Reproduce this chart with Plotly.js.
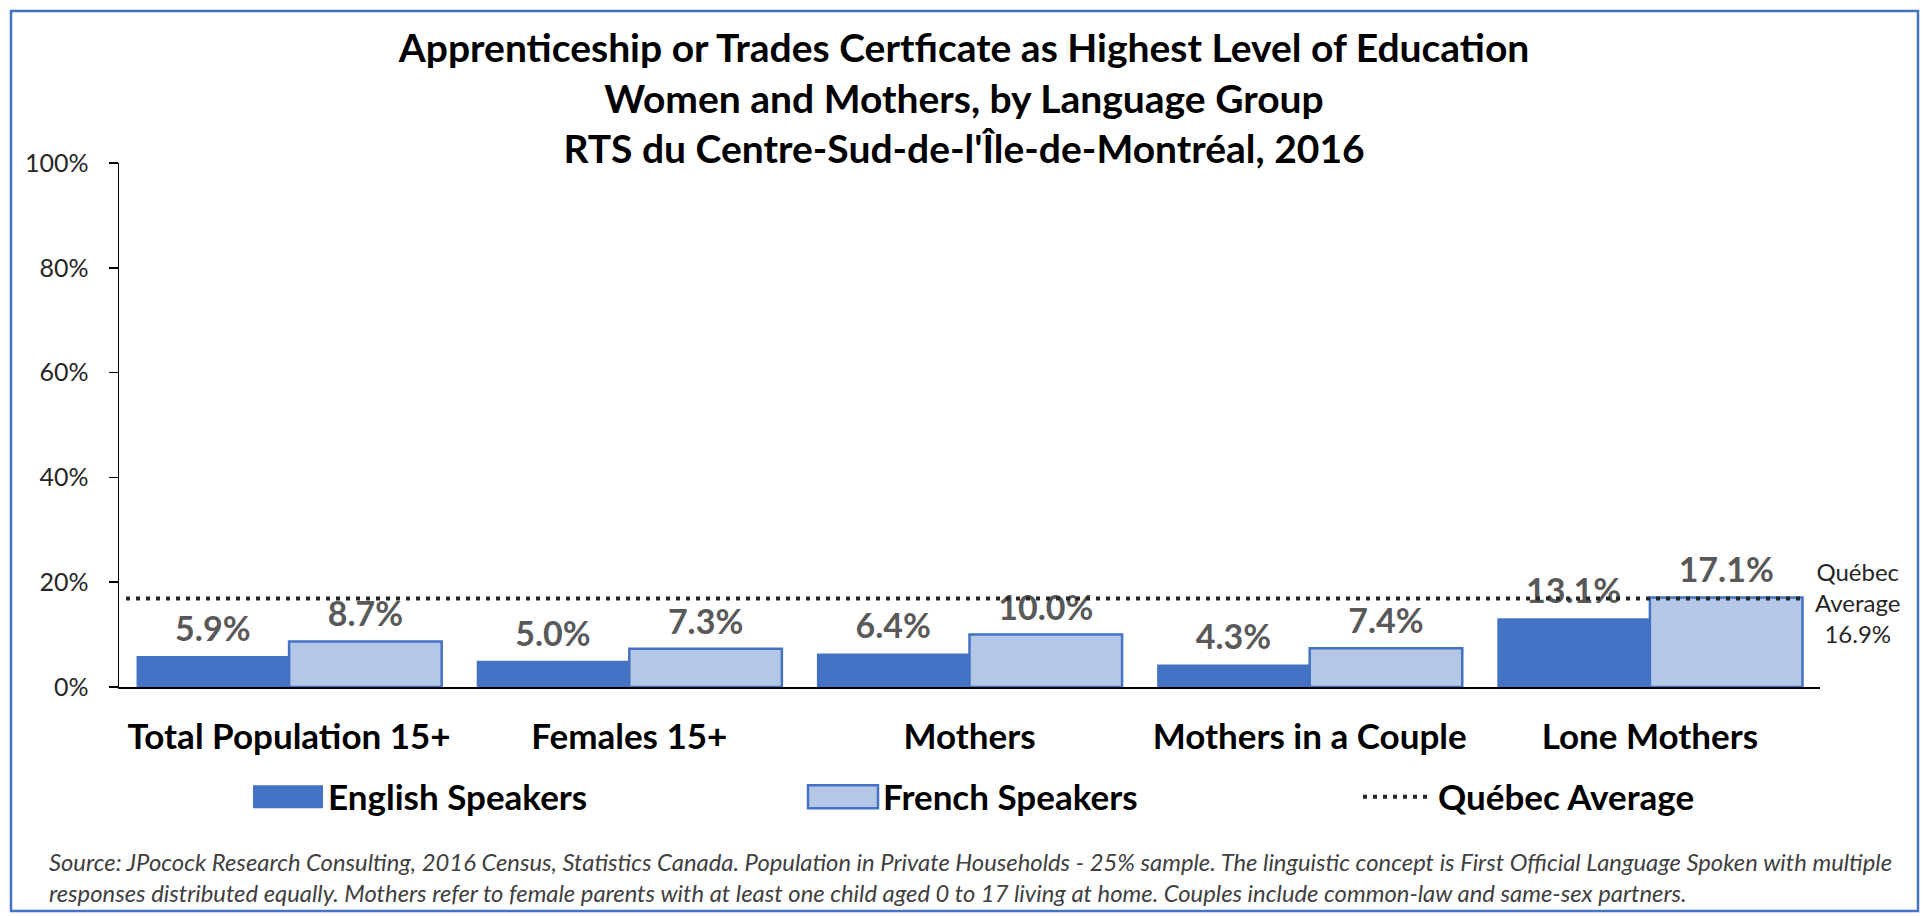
<!DOCTYPE html>
<html>
<head>
<meta charset="utf-8">
<script src="https://cdn.plot.ly/plotly-3.0.1.min.js"></script>
<style>
  html, body { margin: 0; padding: 0; background: #ffffff; }
  #chart { width: 1925px; height: 916px; }
</style>
</head>
<body>
<div id="chart"></div>
<script>
// ---- Data ----
const categories = ["Total Population 15+", "Females 15+", "Mothers", "Mothers in a Couple", "Lone Mothers"];
const englishSpeakers = [5.9, 5.0, 6.4, 4.3, 13.1];
const frenchSpeakers = [8.7, 7.3, 10.0, 7.4, 17.1];
const quebecAverage = [16.9, 16.9, 16.9, 16.9, 16.9];
const yTickValues = [0, 20, 40, 60, 80, 100];
const yTickLabels = ["0%", "20%", "40%", "60%", "80%", "100%"];
const seriesNames = ["English Speakers", "French Speakers", "Québec Average"];
const titleLines = [
  "Apprenticeship or Trades Certficate as Highest Level of Education",
  "Women and Mothers, by Language Group",
  "RTS du Centre-Sud-de-l'Île-de-Montréal, 2016"
];
const sourceLines = [
  "Source: JPocock Research Consulting, 2016 Census, Statistics Canada. Population in Private Households - 25% sample. The linguistic concept is First Official Language Spoken with multiple",
  "responses distributed equally. Mothers refer to female parents with at least one child aged 0 to 17 living at home. Couples include common-law and same-sex partners."
];

const FONT = "Lato, 'Open Sans', sans-serif";
const BLUE = "#4472C4";
const LIGHT = "#B4C7E7";

const traces = [
  {
    type: "bar", name: seriesNames[0], x: categories, y: englishSpeakers,
    marker: { color: BLUE, line: { width: 0 } },
    texttemplate: "%{y:.1f}%", textposition: "outside", cliponaxis: false,
    textfont: { family: FONT, size: 34, color: "#595959", weight: "bold" },
    hoverinfo: "skip"
  },
  {
    type: "bar", name: seriesNames[1], x: categories, y: frenchSpeakers,
    marker: { color: LIGHT, line: { color: BLUE, width: 2.5 } },
    texttemplate: "%{y:.1f}%", textposition: "outside", cliponaxis: false,
    textfont: { family: FONT, size: 34, color: "#595959", weight: "bold" },
    hoverinfo: "skip"
  },
  {
    type: "scatter", mode: "lines", name: seriesNames[2], x: categories, y: quebecAverage,
    xaxis: "x2", yaxis: "y",
    line: { color: "#262626", width: 4, dash: "4px,6px" },
    hoverinfo: "skip", cliponaxis: false
  }
];

const last = categories.length - 1;

const layout = {
  width: 1925, height: 916,
  margin: { l: 119, r: 105, t: 163, b: 229, pad: 0 },
  paper_bgcolor: "#ffffff", plot_bgcolor: "#ffffff",
  font: { family: FONT, color: "#000000" },
  showlegend: true,
  barmode: "group", bargap: 0.103, bargroupgap: 0,
  title: {
    text: titleLines.join("<br>"),
    font: { family: FONT, size: 39, color: "#000000", weight: "bold" },
    xref: "container", x: 0.5008, xanchor: "center",
    yref: "container", y: 1 - 62 / 916, yanchor: "top"
  },
  xaxis: {
    type: "category", showline: true, linecolor: "#000000", linewidth: 2,
    ticks: "", showgrid: false, zeroline: false,
    tickfont: { family: FONT, size: 35, color: "#000000", weight: "bold" },
    ticklabelstandoff: 18
  },
  xaxis2: {
    type: "category", overlaying: "x", visible: false,
    range: [-0.0167, 4.0405]
  },
  yaxis: {
    range: [0, 100], tickvals: yTickValues, ticktext: yTickLabels,
    ticks: "outside", ticklen: 9, tickwidth: 1.5, tickcolor: "#000000",
    showline: true, linecolor: "#000000", linewidth: 1.5,
    showgrid: false, zeroline: false,
    tickfont: { family: FONT, size: 25, color: "#262626" },
    ticklabelstandoff: 15
  },
  legend: {
    orientation: "h", x: (248 - 119) / 1701, xanchor: "left",
    y: (687 - 797) / 524, yanchor: "middle",
    font: { family: FONT, size: 35, color: "#000000", weight: "bold" },
    itemwidth: 70, entrywidth: 470, traceorder: "normal",
    bgcolor: "rgba(0,0,0,0)"
  },
  annotations: [
    {
      xref: "x2", yref: "y", x: categories[last], y: quebecAverage[last],
      text: "Québec<br>Average<br>" + quebecAverage[last].toFixed(1) + "%",
      showarrow: false, xanchor: "left", yanchor: "middle", xshift: 10, yshift: -4,
      align: "center", font: { family: FONT, size: 24, color: "#262626" }
    },
    {
      xref: "paper", yref: "paper", x: (47 - 119) / 1701, y: (687 - 862) / 524,
      xanchor: "left", yanchor: "middle", showarrow: false, align: "left",
      text: "<i>" + sourceLines[0] + "</i>",
      font: { family: FONT, size: 23.8, color: "#404040" }
    },
    {
      xref: "paper", yref: "paper", x: (47 - 119) / 1701, y: (687 - 893) / 524,
      xanchor: "left", yanchor: "middle", showarrow: false, align: "left",
      text: "<i>" + sourceLines[1] + "</i>",
      font: { family: FONT, size: 23.8, color: "#404040" }
    }
  ],
  shapes: [
    {
      type: "rect", xref: "paper", yref: "paper",
      x0: (11 - 119) / 1701, x1: (1918 - 119) / 1701,
      y0: (687 - 911) / 524, y1: (687 - 11) / 524,
      line: { color: BLUE, width: 2.5 }, fillcolor: "rgba(0,0,0,0)", layer: "below"
    }
  ]
};

function tweak() {
  const gd = document.getElementById("chart");
  gd.querySelectorAll(".legend .legendpoints path").forEach(function (p) {
    const d = p.getAttribute("d") || "";
    if (d.indexOf("M6,6H-6V-6H6Z") === 0) {
      p.setAttribute("d", "M35,11.5H-35V-11.5H35Z");
    }
  });
  gd.querySelectorAll("text.bartext").forEach(function (t) {
    const tr = t.getAttribute("transform") || "";
    t.setAttribute("transform", tr + " translate(0,-5)");
  });
}

Plotly.newPlot("chart", traces, layout, { staticPlot: true, displayModeBar: false }).then(tweak);
</script>
</body>
</html>
